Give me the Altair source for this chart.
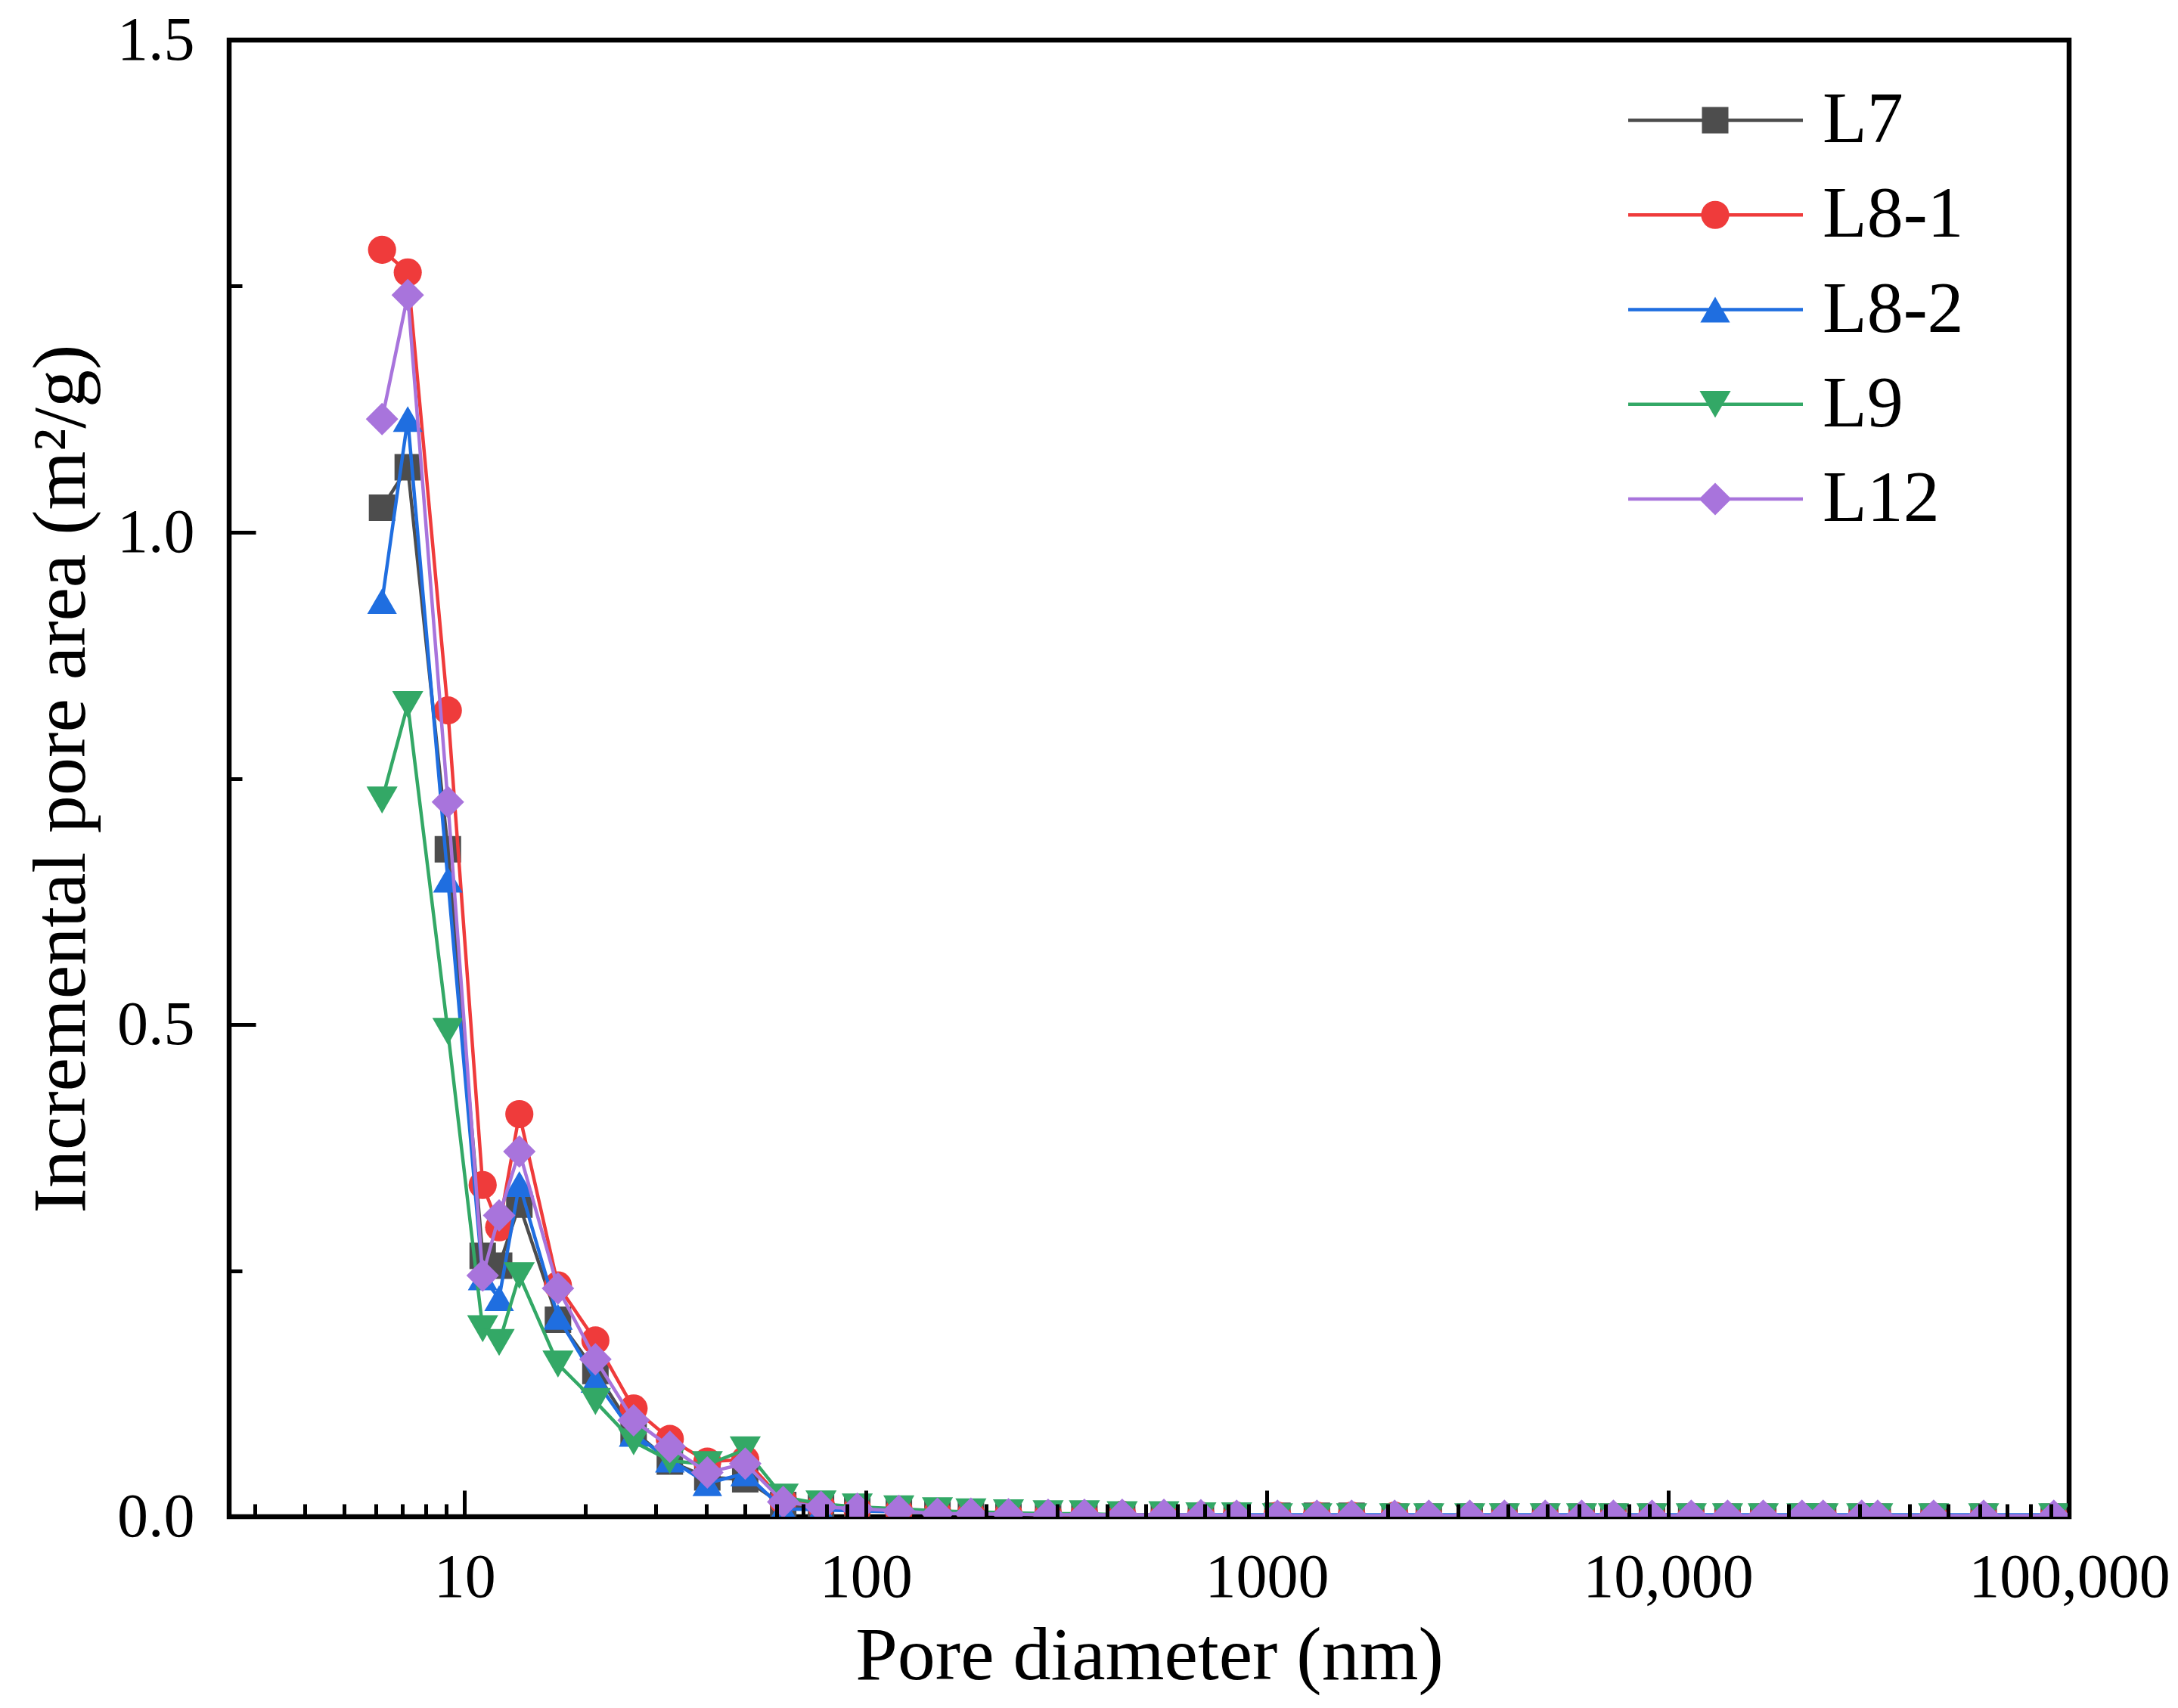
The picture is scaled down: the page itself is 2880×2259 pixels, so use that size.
import altair as alt
import pandas as pd

SAMPLES = ["L7", "L8-1", "L8-2", "L9", "L12"]

DIAMETER_NM = [
    6.23, 7.22, 9.09, 11.1, 12.2, 13.7, 17.1, 21.2, 26.4, 32.5,
    40.3, 50.1, 62.3, 77.4, 95.3, 121, 151, 183, 227, 285,
    351, 436, 554, 685, 841, 1063, 1333, 1627, 2083, 2534,
    3206, 3912, 4943, 6093, 7313, 9126, 11430, 14080, 17280, 21580,
    24370, 30410, 33330, 45950, 61230, 91580,
]

L7 = [
    1.025, 1.066, 0.678, 0.265, 0.255, 0.317, 0.200, 0.148, 0.087, 0.056,
    0.040, 0.038, 0.012, 0.009, 0.007, 0.005, 0.004, 0.003, 0.003, 0.002,
    0.002, 0.002, 0.001, 0.001, 0.001, 0.001, 0.001, 0.001, 0.0, 0.0,
    0.0, 0.0, 0.0, 0.0, 0.0, 0.0, 0.0, 0.0, 0.0, 0.0,
    0.0, 0.0, 0.0, 0.0, 0.0, 0.0,
]
L8_1 = [
    1.287, 1.264, 0.819, 0.337, 0.294, 0.409, 0.235, 0.179, 0.110, 0.079,
    0.056, 0.058, 0.016, 0.011, 0.008, 0.006, 0.004, 0.003, 0.003, 0.002,
    0.002, 0.002, 0.001, 0.001, 0.001, 0.001, 0.001, 0.001, 0.001, 0.0,
    0.0, 0.0, 0.0, 0.0, 0.0, 0.0, 0.0, 0.0, 0.0, 0.0,
    0.0, 0.0, 0.0, 0.0, 0.0, 0.0,
]
L8_2 = [
    0.930, 1.115, 0.647, 0.243, 0.222, 0.338, 0.203, 0.139, 0.084, 0.058,
    0.034, 0.044, 0.008, 0.007, 0.006, 0.005, 0.004, 0.003, 0.003, 0.003,
    0.002, 0.002, 0.002, 0.002, 0.002, 0.002, 0.002, 0.002, 0.002, 0.002,
    0.002, 0.002, 0.002, 0.002, 0.002, 0.002, 0.002, 0.002, 0.002, 0.002,
    0.002, 0.002, 0.002, 0.002, 0.002, 0.002,
]
L9 = [
    0.728, 0.825, 0.493, 0.191, 0.177, 0.245, 0.155, 0.117, 0.076, 0.057,
    0.053, 0.068, 0.020, 0.013, 0.010, 0.008, 0.006, 0.005, 0.004, 0.003,
    0.003, 0.002, 0.002, 0.001, 0.001, 0.0, 0.0, 0.0, 0.0, 0.0,
    0.0, 0.0, 0.0, 0.0, 0.0, 0.0, 0.0, 0.0, 0.0, 0.0,
    0.0, 0.0, 0.0, 0.0, 0.0, 0.0,
]
L12 = [
    1.115, 1.241, 0.726, 0.245, 0.306, 0.371, 0.232, 0.160, 0.098, 0.071,
    0.045, 0.054, 0.015, 0.010, 0.008, 0.006, 0.003, 0.003, 0.0025, 0.002,
    0.002, 0.002, 0.002, 0.0015, 0.001, 0.001, 0.001, 0.001, 0.001, 0.001,
    0.001, 0.001, 0.001, 0.001, 0.001, 0.001, 0.001, 0.001, 0.001, 0.001,
    0.001, 0.001, 0.001, 0.001, 0.001, 0.001,
]

X_MAJOR = [10, 100, 1000, 10000, 100000]
X_MINOR = [m * 10**e for e in range(0, 5) for m in range(2, 10) if 2.59 < m * 10**e < 100000]
Y_MAJOR = [0, 0.5, 1.0, 1.5]
Y_MINOR = [0.25, 0.75, 1.25]

COLORS = ["#4d4d4d", "#ef3b3b", "#1f6ee0", "#33a866", "#a874dc"]
SHAPES = ["square", "circle", "triangle-up", "triangle-down", "diamond"]
SIZES = [1225, 1850, 2400, 2400, 2700]

FONT = "Liberation Serif"
WIDTH = 2433
HEIGHT = 1953


def build_frame() -> pd.DataFrame:
    values = {"L7": L7, "L8-1": L8_1, "L8-2": L8_2, "L9": L9, "L12": L12}
    rows = []
    for sample in SAMPLES:
        for diameter, area in zip(DIAMETER_NM, values[sample]):
            rows.append({"sample": sample, "diameter": diameter, "area": area})
    return pd.DataFrame(rows)


x_scale = alt.Scale(type="log", domain=[2.59, 100000], nice=False)
y_scale = alt.Scale(domain=[0, 1.5], nice=False, zero=False)
color = alt.Color("sample:N", scale=alt.Scale(domain=SAMPLES, range=COLORS), legend=None)
shape = alt.Shape("sample:N", scale=alt.Scale(domain=SAMPLES, range=SHAPES), legend=None)
size = alt.Size("sample:O", scale=alt.Scale(domain=SAMPLES, range=SIZES), legend=None)

tick_style = dict(tickColor="black", tickWidth=5, domain=False, grid=False, zindex=1)

major_x = alt.Axis(
    values=X_MAJOR, orient="bottom", offset=-35, tickSize=35, **tick_style,
    labelFont=FONT, labelFontSize=82, labelColor="black", labelPadding=40,
    labelFlush=False, labelOverlap=False, labelLimit=500,
    labelExpr="datum.value >= 10000 ? format(datum.value, ',') : format(datum.value, 'd')",
    title="Pore diameter (nm)", titleFont=FONT, titleFontSize=100,
    titleFontWeight="normal", titleColor="black", titlePadding=14,
)
minor_x = alt.Axis(
    values=X_MINOR, orient="bottom", offset=-17, tickSize=17, **tick_style,
    labels=False, title="",
)
major_y = alt.Axis(
    values=Y_MAJOR, orient="left", offset=-35, tickSize=35, **tick_style,
    labelFont=FONT, labelFontSize=82, labelColor="black", labelPadding=46,
    labelFlush=False, labelOverlap=False, labelLimit=500, format=".1f",
    title="Incremental pore area (m²/g)", titleFont=FONT, titleFontSize=100,
    titleFontWeight="normal", titleColor="black", titlePadding=22, titleLimit=3000,
)
minor_y = alt.Axis(
    values=Y_MINOR, orient="left", offset=-17, tickSize=17, **tick_style,
    labels=False, title="",
)

frame = build_frame()
layers = []
for i, sample in enumerate(SAMPLES):
    sub = alt.Chart(frame).transform_filter(alt.datum.sample == sample)
    line = sub.mark_line(strokeWidth=4.5, clip=True).encode(
        x=alt.X("diameter:Q", scale=x_scale, axis=major_x if i == 0 else None),
        y=alt.Y("area:Q", scale=y_scale, axis=major_y if i == 0 else None),
        color=color,
    )
    points = sub.mark_point(filled=True, opacity=1, clip=True).encode(
        x=alt.X("diameter:Q", scale=x_scale, axis=minor_x if i == 0 else None),
        y=alt.Y("area:Q", scale=y_scale, axis=minor_y if i == 0 else None),
        color=color,
        shape=shape,
        size=size,
    )
    layers += [line, points]

# legend box, top right
legend_data = pd.DataFrame({"sample": SAMPLES})
row = alt.Y(
    "sample:N", sort=SAMPLES, axis=None,
    scale=alt.Scale(type="point", domain=SAMPLES, range=[106, 607], padding=0),
)
legend_base = alt.Chart(legend_data)
legend_line = legend_base.mark_rule(strokeWidth=4.5).encode(
    x=alt.value(1850), x2=alt.value(2081), y=row, color=color
)
legend_mark = legend_base.mark_point(filled=True, opacity=1).encode(
    x=alt.value(1965), y=row, color=color, shape=shape, size=size
)
legend_text = legend_base.mark_text(
    align="left", baseline="middle", font=FONT, fontSize=96, color="black"
).encode(x=alt.value(2107), y=row, text="sample:N")
layers += [legend_line, legend_mark, legend_text]

chart = (
    alt.layer(*layers)
    .resolve_scale(y="independent")
    .resolve_axis(x="independent", y="independent")
    .properties(
        width=WIDTH,
        height=HEIGHT,
        autosize=alt.AutoSizeParams(type="none"),
        padding={"left": 295, "top": 45, "right": 136, "bottom": 245},
        background="white",
    )
    .configure_view(stroke="black", strokeWidth=6.5)
)

chart.save("out.html", embed_options={"renderer": "svg", "actions": False})
